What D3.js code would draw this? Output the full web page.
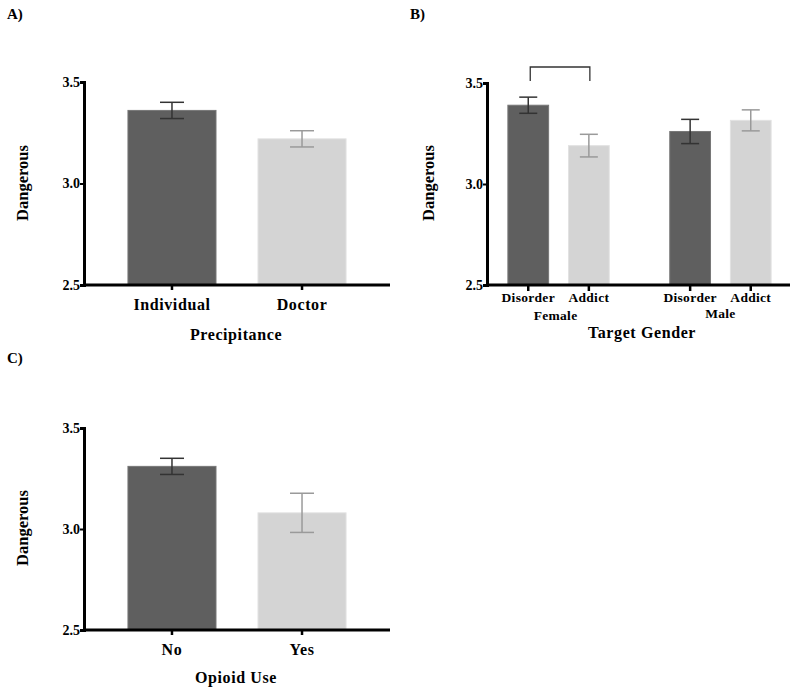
<!DOCTYPE html>
<html><head><meta charset="utf-8">
<script src="https://cdn.jsdelivr.net/npm/d3@7"></script>
<style>
body{margin:0;background:#fff;}
text{font-family:"Liberation Serif","Times New Roman",serif;font-weight:bold;fill:#000;}
</style></head>
<body><svg id="c" width="800" height="691"></svg>
<script>
// Data
const yTicks = [2.5, 3.0, 3.5];
const aCategories = ["Individual", "Doctor"];
const aMeans = [3.36, 3.22];
const aErrors = [0.04, 0.04];

const bGroups = ["Female", "Male"];
const bCategories = ["Disorder", "Addict"];
const bMeans = [[3.39, 3.19], [3.26, 3.315]];
const bErrors = [[0.04, 0.056], [0.06, 0.052]];

const cCategories = ["No", "Yes"];
const cMeans = [3.31, 3.08];
const cErrors = [0.04, 0.097];

const fills = ["#5f5f5f", "#d4d4d4"];
const errColors = ["#333333", "#9a9a9a"];

const svg = d3.select("#c");

function yAxisPanel(g, y, x0) {
  g.append("g").attr("transform", `translate(${x0},0)`)
    .call(d3.axisLeft(y).tickValues(yTicks).tickFormat(d3.format(".1f")).tickSize(4).tickPadding(0))
    .call(a => { a.select(".domain").attr("stroke-width", 3).attr("stroke", "#000");
      a.selectAll(".tick line").attr("stroke-width", 2);
      a.selectAll(".tick text").style("font-size", "14px").style("font-family", "Liberation Serif").style("font-weight", "bold").attr("fill", "#000"); });
}

function errBar(g, cx, y, mean, err, color, hw) {
  g.append("line").attr("x1", cx).attr("x2", cx).attr("y1", y(mean + err)).attr("y2", y(mean - err)).attr("stroke", color).attr("stroke-width", 1.5);
  [mean + err, mean - err].forEach(v => g.append("line").attr("x1", cx - hw).attr("x2", cx + hw).attr("y1", y(v)).attr("y2", y(v)).attr("stroke", color).attr("stroke-width", 1.5));
}

function simplePanel(top, bottom, cats, means, errs, xTitle, catY, titleY, dangY, label, labelY) {
  const g = svg.append("g");
  const y = d3.scaleLinear().domain([2.5, 3.5]).range([bottom, top]);
  const x = d3.scaleBand().domain(cats).range([84, 390]).paddingInner(0.323).paddingOuter(0.338);
  cats.forEach((c, i) => {
    g.append("rect").attr("x", x(c)).attr("width", x.bandwidth()).attr("y", y(means[i])).attr("height", y(2.5) - y(means[i]))
      .attr("fill", fills[i]).attr("stroke", i === 0 ? "#777" : "#e2e2e2").attr("stroke-width", 1);
    errBar(g, x(c) + x.bandwidth() / 2, y, means[i], errs[i], errColors[i], 12);
  });
  yAxisPanel(g, y, 84);
  g.append("g").attr("transform", `translate(0,${bottom})`)
    .call(d3.axisBottom(x).tickSize(5).tickPadding(0).tickFormat(() => ""))
    .call(a => { a.select(".domain").attr("stroke-width", 3).attr("d", `M84,0H390`); a.selectAll(".tick line").attr("stroke-width", 2.5); });
  cats.forEach(c => g.append("text").attr("x", x(c) + x.bandwidth() / 2).attr("y", catY).attr("text-anchor", "middle").style("font-size", "16px").style("letter-spacing", "0.6px").text(c));
  g.append("text").attr("x", 236).attr("y", titleY).attr("text-anchor", "middle").style("font-size", "16px").style("letter-spacing", "0.6px").text(xTitle);
  g.append("text").attr("transform", `translate(28,${dangY}) rotate(-90)`).attr("text-anchor", "middle").style("font-size", "16.5px").text("Dangerous");
  g.append("text").attr("x", 7).attr("y", labelY).style("font-size", "15px").text(label);
}

simplePanel(82, 285, aCategories, aMeans, aErrors, "Precipitance", 310, 340, 183, "A)", 19);
simplePanel(428, 630, cCategories, cMeans, cErrors, "Opioid Use", 655, 683, 528, "C)", 363);

// Panel B
(function () {
  const g = svg.append("g");
  const top = 83, bottom = 285;
  const y = d3.scaleLinear().domain([2.5, 3.5]).range([bottom, top]);
  const x0 = d3.scaleBand().domain(bGroups).range([487, 792]).paddingInner(0.374).paddingOuter(0.129);
  const x1 = d3.scaleBand().domain(bCategories).range([0, x0.bandwidth()]).paddingInner(0.328).paddingOuter(0);
  const centers = [];
  bGroups.forEach((gr, gi) => {
    bCategories.forEach((c, ci) => {
      const bx = x0(gr) + x1(c);
      g.append("rect").attr("x", bx).attr("width", x1.bandwidth()).attr("y", y(bMeans[gi][ci])).attr("height", y(2.5) - y(bMeans[gi][ci]))
        .attr("fill", fills[ci]).attr("stroke", ci === 0 ? "#777" : "#e2e2e2").attr("stroke-width", 1);
      const cx = bx + x1.bandwidth() / 2;
      centers.push(cx);
      errBar(g, cx, y, bMeans[gi][ci], bErrors[gi][ci], errColors[ci], 9);
      g.append("line").attr("x1", cx).attr("x2", cx).attr("y1", bottom).attr("y2", bottom + 6).attr("stroke", "#000").attr("stroke-width", 2.5);
      g.append("text").attr("x", cx).attr("y", 302).attr("text-anchor", "middle").style("font-size", "13.5px").style("letter-spacing", "0.3px").text(c);
    });
    g.append("text").attr("x", x0(gr) + x0.bandwidth() / 2 - (gi === 0 ? 3 : 0)).attr("y", gi === 0 ? 320 : 318).attr("text-anchor", "middle").style("font-size", "13.5px").style("letter-spacing", "0.3px").text(gr);
  });
  yAxisPanel(g, y, 487);
  g.append("line").attr("x1", 487).attr("x2", 790).attr("y1", bottom).attr("y2", bottom).attr("stroke", "#000").attr("stroke-width", 3);
  // significance bracket
  const bx1 = centers[0] + 2, bx2 = centers[1] + 1, by = 67;
  g.append("path").attr("d", `M${bx1},81V${by}H${bx2}V81`).attr("fill", "none").attr("stroke", "#333").attr("stroke-width", 1.3);
  g.append("text").attr("x", 642).attr("y", 338).attr("text-anchor", "middle").style("font-size", "16px").style("letter-spacing", "0.6px").text("Target Gender");
  g.append("text").attr("transform", `translate(434,183) rotate(-90)`).attr("text-anchor", "middle").style("font-size", "16.5px").text("Dangerous");
  g.append("text").attr("x", 410).attr("y", 19).style("font-size", "15px").text("B)");
})();
</script></body></html>
